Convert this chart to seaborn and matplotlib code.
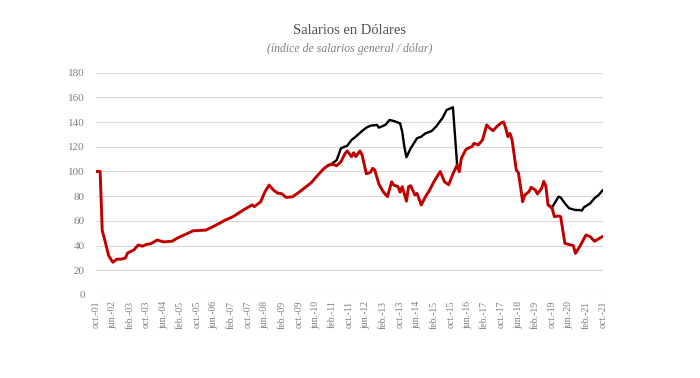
import numpy as np
import pandas as pd
import matplotlib.pyplot as plt
import seaborn as sns

# meses contados desde oct-01 (0 = oct-01, 240 = oct-21)
mes_rojo = [0, 2, 3, 4, 6, 8, 10, 12, 14, 15, 18, 20, 22, 24, 26, 29, 32, 36,
            39, 43, 46, 52, 55, 59, 61, 65, 70, 74, 75, 78, 80, 82, 84, 86, 88,
            90, 93, 96, 99, 102, 105, 108, 110, 112, 114, 116, 118, 119, 121,
            122, 123, 125, 126, 128, 130, 131, 132, 134, 136, 138, 140, 141,
            143, 144, 145, 147, 148, 149, 151, 152, 154, 156, 158, 160, 163,
            165, 167, 169, 171, 172, 173, 175, 176, 178, 179, 181, 183, 185,
            186, 188, 190, 192, 193, 194, 195, 196, 197, 199, 200, 201, 202,
            203, 205, 206, 208, 209, 211, 212, 213, 214, 216, 217, 219, 220,
            222, 226, 227, 229, 232, 234, 236, 240]
valor_rojo = [100, 100, 52, 46, 32, 26.5, 29, 29, 30, 34, 36.5, 40.5, 39.5, 41,
              41.5, 44.5, 43, 43.5, 46.5, 49.5, 52, 52.5, 55, 58.5, 60.5, 63.5,
              69, 73, 71.5, 75.5, 83.5, 89, 85, 82.5, 82, 79, 79.5, 83, 87, 91,
              97, 102.5, 105, 105.8, 104.7, 108, 114.7, 116.6, 112, 115.2, 112,
              116.6, 113.4, 98.2, 99.3, 102.6, 101.2, 89.6, 83.6, 79.6, 91.7,
              89, 87.7, 83.2, 87.7, 76, 87.7, 88.5, 81, 82.3, 72.9, 79.6, 85,
              91.7, 100, 91.7, 89.3, 98, 105.3, 99.8, 110.7, 117.4, 118.8,
              120.1, 122.8, 121.5, 125.5, 137.7, 135.8, 133, 136.8, 139.5,
              140.1, 135, 128.2, 130.9, 125.5, 101.2, 99, 87.7, 75.5, 81, 83.6,
              87.2, 85, 81.8, 86.4, 92, 88, 73, 70, 63.4, 64, 63.4, 41.8, 40,
              33.7, 39.1, 48.6, 47.2, 43.5, 47.5]

# la serie negra solo se separa de la roja en dos tramos
mes_negro_1 = [110, 112, 114, 116, 119, 121, 123, 126, 128, 130, 133, 134, 137,
               139, 141, 144, 145, 146, 147, 149, 152, 154, 156, 159, 161, 164,
               166, 168, 169, 171]
valor_negro_1 = [105, 106.6, 109.3, 118.8, 120.9, 125.5, 128.2, 132.8, 135.5,
                 137.1, 137.7, 135.5, 137.7, 141.7, 140.9, 139, 132.2, 120.1,
                 111.5, 118.8, 126.9, 128.2, 130.9, 132.8, 136.3, 143.1, 149.8,
                 151.2, 152, 105.3]
mes_negro_2 = [214, 216, 217, 219, 220, 222, 224, 227, 229, 230, 231, 234, 236,
               238, 240]
valor_negro_2 = [73, 71, 74, 79.6, 79, 74.2, 70.2, 68.8, 68.8, 68.3, 71, 74.2,
                 78.3, 81, 85]

etiquetas_x = ["oct.-01", "jun.-02", "feb.-03", "oct.-03", "jun.-04", "feb.-05",
               "oct.-05", "jun.-06", "feb.-07", "oct.-07", "jun.-08", "feb.-09",
               "oct.-09", "jun.-10", "feb.-11", "oct.-11", "jun.-12", "feb.-13",
               "oct.-13", "jun.-14", "feb.-15", "oct.-15", "jun.-16", "feb.-17",
               "oct.-17", "jun.-18", "feb.-19", "oct.-19", "jun.-20", "feb.-21",
               "oct.-21"]
marcas_y = [0, 20, 40, 60, 80, 100, 120, 140, 160, 180]

rojo = pd.DataFrame({"mes": mes_rojo, "indice": valor_rojo})
negro = pd.concat([
    pd.DataFrame({"mes": mes_negro_1, "indice": valor_negro_1, "tramo": 1}),
    pd.DataFrame({"mes": mes_negro_2, "indice": valor_negro_2, "tramo": 2}),
])

sns.set_theme(style="white")
plt.rcParams["font.family"] = ["Liberation Serif", "DejaVu Serif"]

fig = plt.figure(figsize=(7, 3.78), dpi=100)
ax = fig.add_axes([0.137, 0.2196, 0.7243, 0.5881])

sns.lineplot(data=negro, x="mes", y="indice", units="tramo", estimator=None,
             color="black", lw=1.7, ax=ax)
sns.lineplot(data=rojo, x="mes", y="indice", color="#C00000", lw=2.1, ax=ax)

ax.set_xlim(0, 240)
ax.set_ylim(0, 180)
ax.set_xticks(np.arange(0, 241, 8))
ax.set_xticklabels(etiquetas_x, rotation=90, fontsize=7, color="#7f7f7f")
ax.set_yticks(marcas_y)
ax.set_yticklabels([str(v) for v in marcas_y], fontsize=8, color="#7f7f7f")
ax.tick_params(axis="both", length=0)
ax.tick_params(axis="y", pad=8)
ax.tick_params(axis="x", pad=4)
ax.grid(axis="y", color="#d9d9d9", lw=0.8)
ax.set_axisbelow(True)
for s in ax.spines.values():
    s.set_visible(False)
ax.set_xlabel("")
ax.set_ylabel("")

fig.text(0.499, 0.918, "Salarios en Dólares", ha="center", va="center",
         fontsize=10.5, color="#505050")
fig.text(0.499, 0.870, "(índice de salarios general / dólar)", ha="center",
         va="center", fontsize=8.5, style="italic", color="#7f7f7f")

fig.savefig("out.png", dpi=100)
